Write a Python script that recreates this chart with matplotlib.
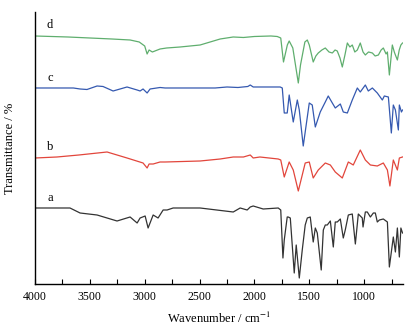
import numpy as np
import matplotlib.pyplot as plt
from matplotlib.ticker import MultipleLocator

plt.rcParams['font.family'] = ['Liberation Serif', 'DejaVu Serif']
plt.rcParams['mathtext.fontset'] = 'stix'

# Espectros IR (unidades arbitrarias, ya desplazados)
wn_a = [4000, 3681, 3589, 3434, 3252, 3133, 3069, 3042, 2996, 2969, 2923, 2878, 2832, 2796, 2741,
        2495, 2193, 2130, 2066, 2038, 2011, 1920, 1783, 1760, 1740, 1728, 1701, 1692, 1673, 1637,
        1619, 1591, 1564, 1537, 1518, 1491, 1464, 1445, 1427, 1391, 1372, 1354, 1336, 1308, 1281,
        1263, 1245, 1217, 1190, 1172, 1144, 1108, 1080, 1053, 1017, 1010, 989, 971, 943, 916, 898,
        880, 861, 825, 788, 770, 734, 715, 697, 679, 665, 650]
t_a = [92, 92, 87, 85, 79, 83, 77, 82, 84, 72, 85, 82, 90, 90, 92,
       92, 88, 92, 90, 93, 94, 91, 92, 90, 42, 60, 83, 83, 82, 27,
       55, 22, 50, 75, 82, 83, 58, 72, 67, 30, 70, 75, 75, 79, 53,
       78, 78, 81, 62, 70, 85, 86, 56, 86, 82, 73, 88, 88, 83, 87, 87,
       78, 80, 81, 78, 33, 63, 48, 72, 43, 72, 67]

wn_b = [4000, 3800, 3600, 3343, 3161, 3015, 2978, 2960, 2923, 2860, 2814, 2495, 2312, 2193, 2100,
        2038, 2011, 1950, 1783, 1760, 1728, 1683, 1646, 1600, 1537, 1500, 1464, 1418, 1354, 1308,
        1263, 1199, 1144, 1099, 1035, 989, 943, 880, 825, 788, 765, 734, 697, 679, 650]
t_b = [142, 143, 145, 148, 142, 137, 132, 136, 136, 138, 138, 139, 141, 143, 143,
       145, 142, 143, 141, 140, 123, 138, 130, 109, 137, 138, 122, 130, 137, 135,
       128, 122, 138, 135, 150, 140, 135, 134, 137, 130, 114, 140, 130, 142, 143]

wn_c = [4000, 3650, 3589, 3526, 3434, 3380, 3288, 3161, 3069, 3042, 3015, 2978, 2951, 2860, 2814,
        2358, 2250, 2150, 2060, 2038, 2011, 1900, 1765, 1746, 1728, 1701, 1683, 1646, 1609, 1591,
        1555, 1500, 1473, 1445, 1400, 1354, 1327, 1290, 1263, 1217, 1190, 1153, 1108, 1062, 1035,
        989, 962, 925, 880, 834, 816, 779, 752, 734, 715, 688, 679, 660, 650]
t_c = [212, 212, 211, 210.5, 214, 213.5, 209, 213, 210, 209, 211, 207, 211, 212.5, 212,
       212, 213, 212.5, 213.5, 215, 213, 213, 213, 212, 187, 187, 205, 178, 200, 190,
       154, 197, 195, 173, 188, 198, 204, 197, 192, 196, 188, 187, 200, 212, 208,
       215, 209, 212, 207, 200, 204, 203, 167, 195, 190, 170, 195, 188, 190]

wn_d = [4000, 3700, 3300, 3133, 3050, 3000, 2978, 2960, 2930, 2860, 2800, 2677, 2495, 2312, 2193,
        2100, 2000, 1850, 1792, 1760, 1735, 1700, 1683, 1650, 1600, 1580, 1540, 1518, 1500, 1464,
        1440, 1418, 1385, 1354, 1320, 1290, 1265, 1245, 1220, 1199, 1175, 1153, 1130, 1108, 1085,
        1062, 1035, 1010, 989, 960, 925, 900, 870, 845, 825, 800, 788, 770, 755, 743, 725, 715,
        697, 680, 665, 650]
t_d = [264, 263, 261, 260, 258, 254, 246, 250, 248, 251, 252, 253, 255, 261, 263,
       262.5, 263.5, 264, 263.5, 262, 238, 255, 259, 252, 217, 235, 258, 260, 255, 238,
       244, 247, 250, 252, 248, 247, 250, 249, 242, 233, 245, 257, 253, 255, 248,
       250, 257, 248, 245, 248, 247, 244, 245, 250, 252, 246, 248, 225, 242, 255, 248, 245,
       240, 250, 255, 257]

labels = ['a', 'b', 'c', 'd']
label_y = [102, 153, 222, 275]
colores = ['#333333', '#e2463c', '#3559b0', '#5fae6e']

fig = plt.figure(figsize=(4.19, 3.34), dpi=100)
ax = fig.add_axes([0.0835, 0.1497, 0.8785, 0.8144])

for wn, t, c in zip([wn_a, wn_b, wn_c, wn_d], [t_a, t_b, t_c, t_d], colores):
    ax.plot(wn, t, color=c, lw=0.9)

# Etiquetas de cada espectro
for lab, y in zip(labels, label_y):
    ax.text(3863, y, lab, fontsize=9, ha='center', va='center')

ax.set_xlim(4000, 645)
ax.set_ylim(16, 288)
ax.xaxis.set_major_locator(MultipleLocator(500))
ax.xaxis.set_minor_locator(MultipleLocator(250))
ax.tick_params(axis='x', which='both', direction='in', length=3.5, width=0.8, labelsize=8.5, pad=5)
ax.set_yticks([])
ax.spines['top'].set_visible(False)
ax.spines['right'].set_visible(False)
ax.spines['left'].set_linewidth(1.0)
ax.spines['bottom'].set_linewidth(1.0)

ax.set_xlabel('Wavenumber / cm$^{-1}$', fontsize=9, labelpad=6)
ax.set_ylabel('Transmittance / %', fontsize=9, labelpad=14)

fig.savefig('out.png', dpi=100)
